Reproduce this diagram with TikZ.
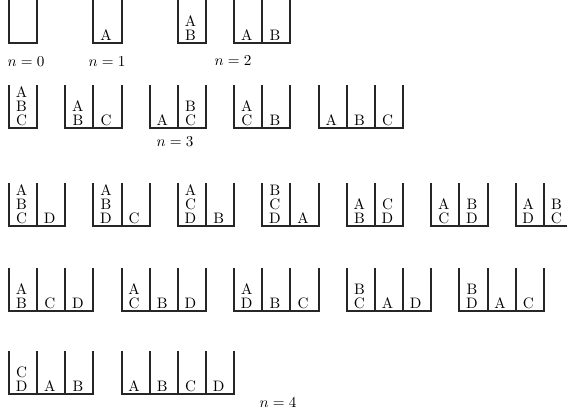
\documentclass[tikz,border=0pt]{standalone}
\tikzset{
  wall/.style={line width=1.25pt, draw=black!85},
  letter/.style={inner sep=0pt, anchor=base},
  lbl/.style={inner sep=0pt, anchor=center}
}
\newcommand{\cw}{28.15}
\newcommand{\bh}{43}
% #1 = first cell index, #2 = bottom y (px), #3 = cells, each cell's letters listed bottom first
\newcommand{\drawbox}[3]{%
  \foreach \c [count=\i from 0] in {#3} {
    \pgfmathsetmacro{\xl}{round(9+\cw*(#1+\i))}
    \pgfmathsetmacro{\xc}{9+\cw*(#1+\i)+\cw/2-1.5}
    \ifnum\i>0 \draw[wall] (\xl,#2-\bh) -- (\xl,#2); \fi
    \foreach \l [count=\j from 0] in \c {
      \node[letter] (L-#1-#2-\i-\j) at (\xc, #2-2.6-14*\j) {\l};
    }
    \xdef\ncells{\i}
  }
  \pgfmathsetmacro{\xa}{round(9+\cw*#1)}
  \pgfmathsetmacro{\xb}{round(9+\cw*(#1+\ncells+1))}
  \draw[wall] (\xa,#2-\bh) -- (\xa,#2) -- (\xb,#2) -- (\xb,#2-\bh);
}
\begin{document}
\begin{tikzpicture}[x=0.66pt,y=-0.66pt]
\fill[white] (0,0) rectangle (567,412);
\useasboundingbox (0,0) rectangle (567,412);
% row 1
\draw[wall] (9,0) -- (9,43) -- (37,43) -- (37,0);
\drawbox{3}{43}{{A}}
\drawbox{6}{43}{{B,A}}
\drawbox{8}{43}{{A},{B}}
\node[lbl] (n0) at (26,62) {$n=0$};
\node[lbl] (n1) at (107,62) {$n=1$};
\node[lbl] (n2) at (233,61) {$n=2$};
% row 2
\drawbox{0}{128}{{C,B,A}}
\drawbox{2}{128}{{B,A},{C}}
\drawbox{5}{128}{{A},{C,B}}
\drawbox{8}{128}{{C,A},{B}}
\drawbox{11}{128}{{A},{B},{C}}
\node[lbl] (n3) at (175,142) {$n=3$};
% row 3
\drawbox{0}{226}{{C,B,A},{D}}
\drawbox{3}{226}{{D,B,A},{C}}
\drawbox{6}{226}{{D,C,A},{B}}
\drawbox{9}{226}{{D,C,B},{A}}
\drawbox{12}{226}{{B,A},{D,C}}
\drawbox{15}{226}{{C,A},{D,B}}
\drawbox{18}{226}{{D,A},{C,B}}
% row 4
\drawbox{0}{311}{{B,A},{C},{D}}
\drawbox{4}{311}{{C,A},{B},{D}}
\drawbox{8}{311}{{D,A},{B},{C}}
\drawbox{12}{311}{{C,B},{A},{D}}
\drawbox{16}{311}{{D,B},{A},{C}}
% row 5
\drawbox{0}{394}{{D,C},{A},{B}}
\drawbox{4}{394}{{A},{B},{C},{D}}
\node[lbl] (n4) at (278,403) {$n=4$};
\end{tikzpicture}
\end{document}
